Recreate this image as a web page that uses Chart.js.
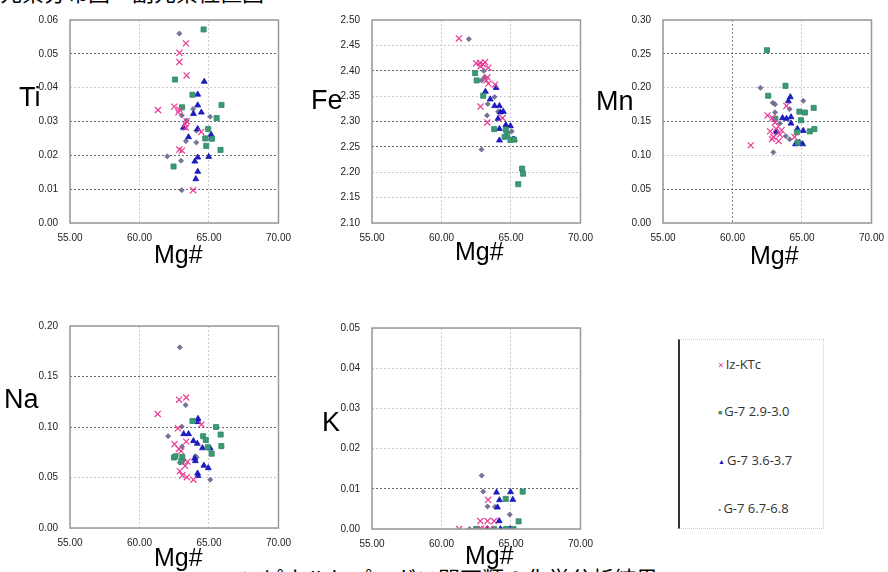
<!DOCTYPE html>
<html>
<head>
<meta charset="utf-8">
<script src="https://cdn.jsdelivr.net/npm/chart.js@4/dist/chart.umd.min.js"></script>
<style>
  body { margin: 0; width: 888px; height: 572px; overflow: hidden; background: #fff; position: relative;
    font-family: "Liberation Sans", Arial, sans-serif; }
  canvas.panel { position: absolute; }
  .lbl { position: absolute; color: #000; white-space: nowrap; line-height: 1; }
  .ytl { font-size: 27px; }
  .xtl { font-size: 25px; }
  .jp { position: absolute; font-family: "Noto Sans CJK JP", sans-serif; font-size: 22px; white-space: nowrap; line-height: 1; color: #000; }
  #legend { position: absolute; left: 678px; top: 339px; width: 146px; height: 190px;
    border: 1px dotted #ccc; border-left: 2px solid #333; box-sizing: border-box; }
  #legend div { position: absolute; left: 38px; font-size: 13px; color: #333; font-family: "Open Sans", sans-serif; }
  #legend span { display: inline-block; margin-right: 2px; }
</style>
</head>
<body>
<div class="jp" style="left:0;top:-20px;">元素分布図・副元素位置図</div>
<div class="jp" style="left:240px;top:566px;">スピネルとパーガス閃石類の化学分析結果</div>

<canvas class="panel" id="c-ti"></canvas>
<canvas class="panel" id="c-fe"></canvas>
<canvas class="panel" id="c-mn"></canvas>
<canvas class="panel" id="c-na"></canvas>
<canvas class="panel" id="c-k"></canvas>

<div class="lbl ytl" style="left:19px;top:84px;">Ti</div>
<div class="lbl ytl" style="left:311px;top:87px;">Fe</div>
<div class="lbl ytl" style="left:596px;top:88px;">Mn</div>
<div class="lbl ytl" style="left:4px;top:386px;">Na</div>
<div class="lbl ytl" style="left:322px;top:409px;">K</div>
<div class="lbl xtl" style="left:154px;top:242px;">Mg#</div>
<div class="lbl xtl" style="left:455px;top:239px;">Mg#</div>
<div class="lbl xtl" style="left:750px;top:243px;">Mg#</div>
<div class="lbl xtl" style="left:154px;top:545px;">Mg#</div>
<div class="lbl xtl" style="left:465px;top:543px;">Mg#</div>

<div id="legend">
  <div style="top:15px;"><span style="color:#e8409a;font-size:10px;">×</span>Iz-KTc</div>
  <div style="top:62px;"><span style="color:#3a8f6e;font-size:7px;vertical-align:1px;">■</span>G-7 2.9-3.0</div>
  <div style="top:111px;"><span style="color:#1818b8;font-size:7px;vertical-align:1px;">▲</span>G-7 3.6-3.7</div>
  <div style="top:159px;"><span style="color:#70708c;font-size:9px;">•</span>G-7 6.7-6.8</div>
</div>

<script>
// series names
const seriesNames = ['Iz-KTc', 'G-7 2.9-3.0', 'G-7 3.6-3.7', 'G-7 6.7-6.8'];

// Ti vs Mg#
const tiKTc = [[63.34,0.0531],[62.87,0.0503],[62.87,0.0476],[63.39,0.0436],[61.33,0.0334],[62.50,0.0344],[62.87,0.0335],[62.80,0.0327],[63.39,0.0301],[63.30,0.0292],[63.34,0.0282],[64.44,0.0269],[62.87,0.0217],[63.06,0.0214],[63.86,0.0097]];
const tiG29 = [[64.61,0.0572],[62.55,0.0424],[63.81,0.0379],[65.90,0.0349],[63.06,0.0342],[65.55,0.0310],[64.94,0.0278],[64.73,0.0250],[65.22,0.0249],[64.80,0.0228],[65.83,0.0216],[62.45,0.0167]];
const tiG36 = [[64.66,0.0418],[64.19,0.0380],[64.19,0.0348],[63.88,0.0323],[64.45,0.0327],[63.16,0.0282],[64.19,0.0278],[63.53,0.0254],[65.15,0.0261],[65.17,0.0252],[64.19,0.0194],[64.98,0.0196],[63.98,0.0182],[64.19,0.0152],[64.05,0.0130]];
const tiG67 = [[62.87,0.0560],[63.86,0.0337],[63.06,0.0341],[63.04,0.0318],[65.08,0.0314],[63.39,0.0303],[64.09,0.0273],[63.34,0.0242],[64.09,0.0238],[62.00,0.0197],[62.99,0.0184],[63.04,0.0097]];

// Fe vs Mg#
const feKTc = [[61.25,2.4636],[62.49,2.4147],[62.77,2.4154],[63.00,2.4122],[63.14,2.4170],[63.37,2.4060],[62.81,2.4090],[63.30,2.3871],[63.23,2.3810],[63.37,2.3746],[63.84,2.3727],[62.81,2.3295],[63.30,2.2981],[64.40,2.3069]];
const feG29 = [[62.42,2.3953],[62.53,2.3809],[63.00,2.3508],[63.79,2.2850],[64.63,2.2837],[64.73,2.2743],[64.54,2.2699],[64.96,2.2636],[65.22,2.2643],[65.80,2.2072],[65.87,2.1972],[65.52,2.1765]];
const feG36 = [[63.93,2.3665],[63.16,2.3589],[63.51,2.3439],[63.82,2.3307],[64.17,2.3307],[64.24,2.3182],[64.45,2.3194],[64.07,2.3056],[64.17,2.2856],[64.63,2.2931],[64.96,2.2912],[64.17,2.2630],[65.15,2.2649],[65.24,2.2643]];
const feG67 = [[61.97,2.4624],[63.05,2.3997],[62.88,2.3809],[63.09,2.3870],[63.82,2.3483],[63.33,2.3345],[63.28,2.3119],[64.07,2.3194],[65.05,2.2806],[62.88,2.2448]];

// Mn vs Mg#
const mnKTc = [[61.31,0.1147],[62.52,0.1589],[62.87,0.1552],[63.88,0.1730],[62.71,0.1354],[62.85,0.1241],[63.13,0.1392],[63.32,0.1213],[63.41,0.1307],[62.94,0.1270],[63.53,0.1373],[64.46,0.1270],[63.06,0.1486]];
const mnG29 = [[62.48,0.2553],[62.57,0.1881],[63.81,0.2027],[64.81,0.1646],[65.21,0.1632],[65.84,0.1702],[64.93,0.1519],[64.63,0.1340],[65.56,0.1354],[65.89,0.1387],[64.70,0.1190],[63.08,0.1540]];
const mnG36 = [[64.16,0.1862],[64.02,0.1801],[63.60,0.1552],[63.88,0.1542],[64.21,0.1566],[64.21,0.1472],[63.18,0.1354],[64.67,0.1392],[65.09,0.1364],[64.53,0.1166],[64.81,0.1190],[65.05,0.1166]];
const mnG67 = [[62.01,0.1998],[62.90,0.1777],[63.06,0.1754],[64.11,0.1683],[65.09,0.1806],[63.06,0.1636],[63.41,0.1472],[63.83,0.1284],[64.11,0.1237],[62.94,0.1044],[63.13,0.1330]];

// Na vs Mg#
const naKTc = [[61.31,0.1129],[62.85,0.1270],[63.36,0.1292],[62.76,0.0987],[62.52,0.0830],[62.83,0.0783],[62.99,0.0761],[63.36,0.0855],[63.46,0.0657],[63.29,0.0616],[62.90,0.0563],[63.08,0.0522],[63.41,0.0503],[63.88,0.0478],[64.46,0.1025]];
const naG29 = [[63.81,0.1060],[62.48,0.0698],[62.59,0.0710],[63.08,0.0704],[64.58,0.0909],[64.77,0.0871],[65.51,0.1000],[65.84,0.0925],[65.89,0.0811],[64.91,0.0799],[65.19,0.0736],[63.01,0.0657]];
const naG36 = [[64.21,0.1082],[64.21,0.1050],[63.18,0.0931],[63.53,0.0931],[63.88,0.0862],[64.16,0.0836],[64.53,0.0792],[65.09,0.0789],[63.97,0.0689],[64.02,0.0664],[64.63,0.0619],[64.95,0.0594],[64.18,0.0541],[64.21,0.0516]];
const naG67 = [[62.90,0.1789],[63.32,0.1217],[63.04,0.1003],[62.06,0.0909],[63.06,0.0805],[64.02,0.0711],[62.90,0.0648],[64.11,0.0698],[65.09,0.0478],[63.18,0.0673]];

// K vs Mg#
const kKTc = [[61.27,0],[62.79,0.00197],[63.31,0.00197],[63.78,0.00197],[63.35,0.00727],[62.84,0],[63.07,0],[63.50,0]];
const kG29 = [[65.84,0.0093],[64.62,0.0075],[65.55,0.0019],[62.49,0],[63.78,0],[65.18,0],[64.71,0]];
const kG36 = [[63.96,0.0091],[64.97,0.0092],[64.17,0.0072],[65.13,0.0073],[64.03,0.0054],[64.15,0.0020],[63.31,0],[64.24,0],[64.94,0]];
const kG67 = [[62.89,0.0133],[63.00,0.0093],[63.31,0.0056],[63.85,0.0055],[64.91,0.0036],[62.02,0],[62.72,0],[63.66,0],[64.48,0]];

// x axis ticks
const mgMin = 55, mgMax = 70, mgStep = 5;

const markers = [
  { pointStyle: 'crossRot', radius: 4.3, borderColor: '#ea3a94', backgroundColor: '#ea3a94', borderWidth: 1.2 },
  { pointStyle: 'rect', radius: 3.6, borderColor: '#2f8766', backgroundColor: '#3a9a74', borderWidth: 0.8 },
  { pointStyle: 'triangle', radius: 3.4, borderColor: '#1414b4', backgroundColor: '#1c1cc8', borderWidth: 0.8 },
  { pointStyle: 'rectRot', radius: 2.6, borderColor: '#5c5c80', backgroundColor: '#74749a', borderWidth: 0.6 },
];

// draws the plot frame
const framePlugin = {
  id: 'frame',
  afterDraw(chart) {
    const { ctx, chartArea: a } = chart;
    ctx.save();
    ctx.strokeStyle = '#999';
    ctx.lineWidth = 1.5;
    ctx.strokeRect(a.left, a.top, a.right - a.left, a.bottom - a.top);
    ctx.restore();
  }
};

function panel(id, box, sets, y, darkY, darkX) {
  const padL = 62, padT = 8, padR = 16, xH = 24;
  const c = document.getElementById(id);
  const w = box.right - box.left + padL + padR;
  const h = box.bottom - box.top + padT + xH;
  c.width = Math.round(w); c.height = Math.round(h);
  c.style.left = (box.left - padL) + 'px';
  c.style.top = (box.top - padT) + 'px';
  const near = (v, list) => list.some((d) => Math.abs(d - v) < 1e-6);
  return new Chart(c, {
    type: 'scatter',
    data: {
      datasets: sets.map((pts, i) => ({
        label: seriesNames[i],
        data: pts.map(([px, py]) => ({ x: px, y: py })),
        pointStyle: markers[i].pointStyle,
        pointRadius: markers[i].radius,
        pointBorderColor: markers[i].borderColor,
        pointBackgroundColor: markers[i].backgroundColor,
        pointBorderWidth: markers[i].borderWidth,
        pointHoverRadius: markers[i].radius,
      })),
    },
    options: {
      responsive: false,
      animation: false,
      layout: { padding: { left: 0, top: padT, right: padR, bottom: 0 } },
      plugins: { legend: { display: false }, tooltip: { enabled: false } },
      scales: {
        x: {
          type: 'linear', min: mgMin, max: mgMax,
          afterFit: (s) => { s.height = xH; },
          ticks: { stepSize: mgStep, padding: 9, color: '#222', font: { size: 10, family: 'Liberation Sans' },
            callback: (v) => Number(v).toFixed(2), maxRotation: 0 },
          grid: { drawTicks: false, lineWidth: 1,
            color: (ctx) => ctx.tick && near(ctx.tick.value, darkX) ? '#888' : '#ccc' },
          border: { display: false, dash: [2, 2] },
        },
        y: {
          type: 'linear', min: y.min, max: y.max,
          afterFit: (s) => { s.width = padL; },
          ticks: { stepSize: y.step, padding: 12, color: '#222', font: { size: 10, family: 'Liberation Sans' },
            callback: (v) => Number(v).toFixed(2) },
          grid: { drawTicks: false, lineWidth: 1,
            color: (ctx) => ctx.tick && near(ctx.tick.value, darkY) ? '#666' : '#c8c8c8' },
          border: { display: false, dash: [2, 2] },
        },
      },
    },
    plugins: [framePlugin],
  });
}

panel('c-ti', { left: 70, top: 10, right: 284, bottom: 222.7 }, [tiKTc, tiG29, tiG36, tiG67],
  { min: 0, max: 0.06, step: 0.01 }, [0.01, 0.02, 0.03, 0.05], []);
panel('c-fe', { left: 372.3, top: 10, right: 586.7, bottom: 222.7 }, [feKTc, feG29, feG36, feG67],
  { min: 2.1, max: 2.5, step: 0.05 }, [2.25, 2.3, 2.4], []);
panel('c-mn', { left: 663.3, top: 10, right: 877.3, bottom: 222.7 }, [mnKTc, mnG29, mnG36, mnG67],
  { min: 0, max: 0.3, step: 0.05 }, [0.05, 0.15, 0.25], [60]);
panel('c-na', { left: 70, top: 316, right: 284, bottom: 528 }, [naKTc, naG29, naG36, naG67],
  { min: 0, max: 0.2, step: 0.05 }, [0.1, 0.15], []);
panel('c-k', { left: 371.7, top: 318.3, right: 585.3, bottom: 529.3 }, [kKTc, kG29, kG36, kG67],
  { min: 0, max: 0.05, step: 0.01 }, [0.01], []);
</script>
</body>
</html>
